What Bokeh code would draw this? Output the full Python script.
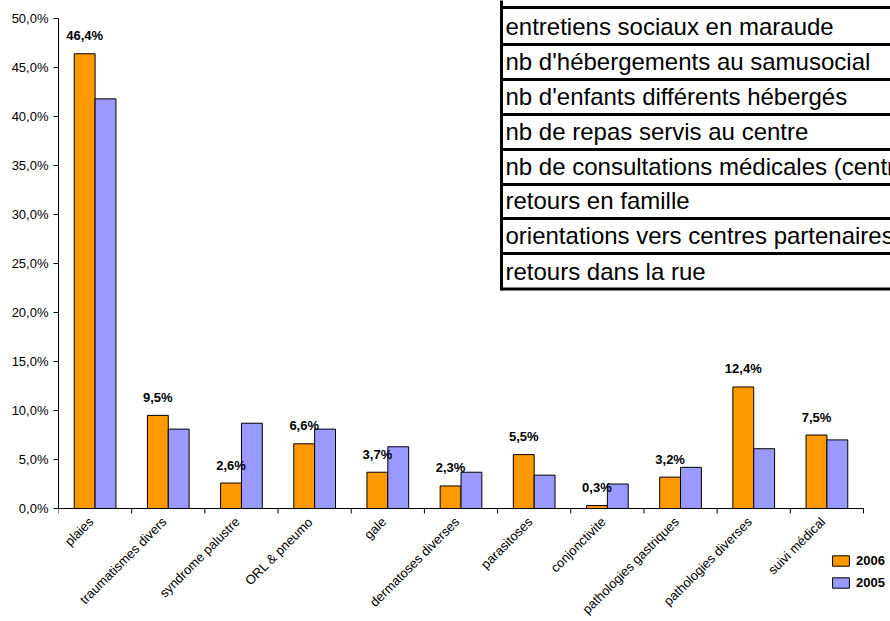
import math
from bokeh.plotting import figure
from bokeh.models import FixedTicker, ColumnDataSource
from bokeh.core.properties import value
from bokeh.embed import file_html
from bokeh.resources import INLINE

# ---------------- data ----------------
categories = ["plaies", "traumatismes divers", "syndrome palustre", "ORL & pneumo",
              "gale", "dermatoses diverses", "parasitoses", "conjonctivite",
              "pathologies gastriques", "pathologies diverses", "suivi médical"]
values_2006 = [46.4, 9.5, 2.6, 6.6, 3.7, 2.3, 5.5, 0.3, 3.2, 12.4, 7.5]
values_2005 = [41.8, 8.1, 8.7, 8.1, 6.3, 3.7, 3.4, 2.5, 4.2, 6.1, 7.0]
series_names = ["2006", "2005"]
y_ticks = [0, 5, 10, 15, 20, 25, 30, 35, 40, 45, 50]
y_tick_labels = ["0,0%", "5,0%", "10,0%", "15,0%", "20,0%", "25,0%",
                 "30,0%", "35,0%", "40,0%", "45,0%", "50,0%"]
table_rows = ["entretiens sociaux en maraude", "nb d'hébergements au samusocial",
              "nb d'enfants différents hébergés", "nb de repas servis au centre",
              "nb de consultations médicales (centre)", "retours en famille",
              "orientations vers centres partenaires", "retours dans la rue"]

# ---------------- layout (canvas pixels) ----------------
W, H = 890, 621
LEFT = 58            # y axis position
ZERO_Y = 508         # pixel of 0 %
PX_CAT = 805 / 11.0
PX_PCT = 9.8
FW = W - LEFT
x_start = -0.5
x_end = x_start + FW / PX_CAT
y_end = ZERO_Y / PX_PCT
y_start = -(H - ZERO_Y) / PX_PCT

ORANGE = "#FF9900"
BLUE = "#9999FF"
FONT = "Liberation Sans"

p = figure(width=W, height=H, output_backend="svg", toolbar_location=None,
           x_range=(x_start, x_end), y_range=(y_start, y_end),
           min_border_left=LEFT, min_border_right=0, min_border_top=0,
           min_border_bottom=0, tools="")
p.outline_line_color = None
p.xgrid.visible = False
p.ygrid.visible = False
p.xaxis.visible = False
p.background_fill_color = "white"
p.border_fill_color = "white"


def cx(px):
    return x_start + (px - LEFT) / PX_CAT


def cy(py):
    return (ZERO_Y - py) / PX_PCT


xs = list(range(len(categories)))
bw = 0.285
src = ColumnDataSource(dict(
    x6=[x - bw / 2 for x in xs], x5=[x + bw / 2 for x in xs],
    v6=values_2006, v5=values_2005,
    lab=[("%.1f" % v).replace(".", ",") + "%" for v in values_2006],
))
p.vbar(x="x6", top="v6", width=bw, source=src, fill_color=ORANGE,
       line_color="black", line_width=1, legend_label=series_names[0])
p.vbar(x="x5", top="v5", width=bw, source=src, fill_color=BLUE,
       line_color="black", line_width=1, legend_label=series_names[1])
p.text(x="x6", y="v6", text="lab", source=src, text_align="center",
       text_baseline="alphabetic", y_offset=-18,
       text_font=value(FONT), text_font_size=value("13px"),
       text_font_style="bold", text_color="black")

# ---------------- x axis drawn in data space ----------------
bounds = [x - 0.5 for x in xs] + [xs[-1] + 0.5]
p.segment(x0=[bounds[0]], x1=[bounds[-1]], y0=[0], y1=[0],
          line_color="black", line_width=1)
p.segment(x0=bounds, x1=bounds, y0=[0] * len(bounds),
          y1=[-5 / PX_PCT] * len(bounds), line_color="black", line_width=1)
p.text(x=xs, y=[0] * len(xs), text=categories, angle=math.pi / 4,
       text_align="right", text_baseline="middle", x_offset=-4, y_offset=11,
       text_font=value(FONT), text_font_size=value("13px"), text_color="black")

# ---------------- y axis ----------------
ya = p.yaxis[0]
ya.ticker = FixedTicker(ticks=y_ticks, minor_ticks=[])
ya.major_label_overrides = {t: l for t, l in zip(y_ticks, y_tick_labels)}
ya.bounds = (0, 50)
ya.major_tick_out = 5
ya.major_tick_in = 0
ya.minor_tick_out = 0
ya.minor_tick_in = 0
ya.axis_line_color = "black"
ya.major_tick_line_color = "black"
ya.major_label_text_font = FONT
ya.major_label_text_font_size = "13px"
ya.major_label_text_color = "black"
ya.major_label_standoff = 5

# ---------------- overlay table ----------------
line_ys = [7, 44, 79, 114, 149, 184, 218, 253, 288.5]  # pixels
tl = cx(501)
tr = cx(W + 30)
p.quad(left=[tl], right=[tr], top=[cy(-10)], bottom=[cy(line_ys[-1])],
       fill_color="white", line_color=None)
p.segment(x0=[tl] * len(line_ys), x1=[tr] * len(line_ys),
          y0=[cy(v) for v in line_ys], y1=[cy(v) for v in line_ys],
          line_color="black", line_width=3)
p.segment(x0=[tl], x1=[tl], y0=[cy(-10)], y1=[cy(line_ys[-1] + 1.5)],
          line_color="black", line_width=3)
p.text(x=[cx(505)] * len(table_rows),
       y=[cy(line_ys[i + 1] - 18) for i in range(len(table_rows))],
       text=table_rows, text_align="left", text_baseline="alphabetic",
       text_font=value(FONT), text_font_size=value("24px"), text_color="black")

# ---------------- legend ----------------
lg = p.legend[0]
lg.location = (830 - LEFT, H - 590)
lg.glyph_width = 21
lg.glyph_height = 13
lg.label_height = 13
lg.spacing = 7
lg.padding = 0
lg.margin = 0
lg.label_standoff = 5
lg.border_line_alpha = 0
lg.background_fill_alpha = 0
lg.label_text_font = FONT
lg.label_text_font_size = "13px"
lg.label_text_font_style = "bold"
lg.label_text_color = "black"

open("out.html", "w").write(file_html(p, INLINE))
